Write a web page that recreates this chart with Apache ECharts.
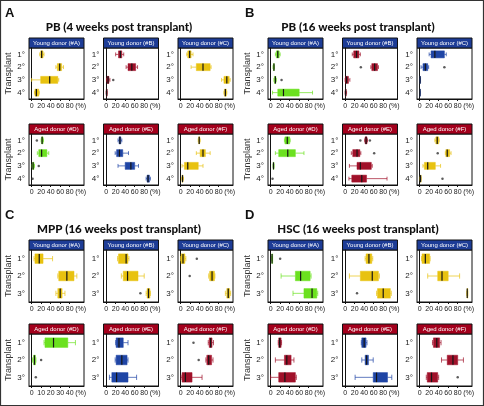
<!DOCTYPE html>
<html><head><meta charset="utf-8">
<script src="https://cdn.jsdelivr.net/npm/echarts@6/dist/echarts.min.js"></script>
<style>html,body{margin:0;padding:0;background:#fff}#c{width:484px;height:406px}</style>
</head><body><div id="c"></div>
<script>
// ---------- data: [min, Q1, median, Q3, max] per transplant; outliers: [transplantIndex, value]
const rows4 = ['1°','2°','3°','4°'];
const rows3 = ['1°','2°','3°'];
const xTicks = [0,20,40,60,80];
const xTicksHalf = [0,10,20,30,40];
const donorLabels = ['Young donor (#A)','Young donor (#B)','Young donor (#C)','Aged donor (#D)','Aged donor (#E)','Aged donor (#F)'];
const panelTitles = ['PB (4 weeks post transplant)','PB (16 weeks post transplant)','MPP (16 weeks post transplant)','HSC (16 weeks post transplant)'];
const panelLetters = ['A','B','C','D'];

// Panel A: PB 4 weeks
const pb4_A = [[17,19,21,24,26],[51,54,59,63,67],[0,19,38,55,57],[6,7,10,15,16]];
const pb4_A_out = [];
const pb4_B = [[20,26,30,33,37],[42,46,54,62,66],[1,2,4,6,8],[0,0.5,1,1.5,2]];
const pb4_B_out = [[2,15]];
const pb4_C = [[13,15,19,22,26],[22,33,47,62,64],[86,91,97,102,104],[91,92,94,96,97]];
const pb4_C_out = [];
const pb4_D = [[20,21,22,24,25],[12,15,21,32,36],[1,2,3,5,6],null];
const pb4_D_out = [[0,11],[2,15],[3,2]];
const pb4_E = [[25,27,29,31,33],[19,22,28,35,47],[25,40,52,60,68],[84,86,88,91,93]];
const pb4_E_out = [];
const pb4_F = [[37,38,39,40,41],[33,41,47,52,62],[3,8,15,37,47],[2,3,4,5,6]];
const pb4_F_out = [];

// Panel B: PB 16 weeks
const pb16_A = [[10,12,15,18,20],[5,6,7,7.5,8],[7,8,10,11,12],[4,15,27,60,88]];
const pb16_A_out = [[2,23]];
const pb16_B = [[15,18,24,29,32],[54,56,62,68,70],[0,1,3,7,10],[0,0.5,1,2,3]];
const pb16_B_out = [[1,33]];
const pb16_C = [[20,24,32,52,56],[3,7,12,17,19],[0,0.3,0.6,1,1.5],[0,0,0.3,0.6,1]];
const pb16_C_out = [[1,52]];
const pb16_D = [[29,30,35,40,41],[10,17,36,52,70],[5,5.5,6,6.5,7],null];
const pb16_D_out = [[3,4]];
const pb16_E = [[41,42,44,46,47],[13,16,25,31,33],[9,25,32,55,57],[8,14,35,45,88]];
const pb16_E_out = [[0,32],[0,52],[1,61]];
const pb16_F = [[32,34,37,40,41],[54,55,58,63,66],[7,10,17,33,44],[1,1.5,2,2.5,3]];
const pb16_F_out = [[1,38],[3,48]];

// Panel C: MPP 16 weeks
const mpp_A = [[5,7,16,24,44],[55,57,74,89,95],[51,55,60,64,70]];
const mpp_A_out = [];
const mpp_B = [[24,26,42,46,48],[32,36,45,67,80],[84,86,89,92,93]];
const mpp_B_out = [[2,72]];
const mpp_C = [[0,1,5,9,11],[59,61,66,71,72],[94,97,100,103,105]];
const mpp_C_out = [[0,34],[1,19]];
const mpp_D = [[13,14,23,38,46],[1,2,3,4,4.5],null];
const mpp_D_out = [[1,10],[2,4.4]];
const mpp_E = [[20,21,27,36,46],[19,21,33,44,46],[7,12,22,46,64]];
const mpp_E_out = [];
const mpp_F = [[58,60,63,66,69],[53,55,59,65,68],[1,3,10,24,45]];
const mpp_F_out = [[0,27],[1,38]];

// Panel D: HSC 16 weeks
const hsc_A = [[2,2.5,3,3.5,4],[22,52,63,83,85],[47,70,87,97,99]];
const hsc_A_out = [[0,20]];
const hsc_B = [[42,44,50,56,58],[9,32,57,70,72],[66,68,80,95,97]];
const hsc_B_out = [[2,25]];
const hsc_C = [[4,5,12,21,22],[17,38,47,60,84],[99,99.5,100,100.5,101]];
const hsc_C_out = [];
const hsc_D = [[16,17,19,22,23],[10,29,34,43,49],[0,17,30,52,54]];
const hsc_D_out = [];
const hsc_E = [[34,35,40,44,46],[35,42,45,49,59],[21,59,66,89,98]];
const hsc_E_out = [];
const hsc_F = [[27,29,36,42,45],[46,58,70,80,92],[14,16,25,38,40]];
const hsc_F_out = [[2,80]];

// ---------- styles / layout
const COL = {y:'#e8c210', r:'#a0112a', b:'#1f45a5', g:'#6be11f'};
const HEAD_Y = '#1d3c96', HEAD_A = '#a3001c';
const W = 55;

const panels = [
  {lx:5, ly:7, tcx:119, tcy:27, lefts:[29,103.5,178], heads:[38,124], plotH:51, cats:rows4,
   plots:[[pb4_A,pb4_A_out,'y'],[pb4_B,pb4_B_out,'r'],[pb4_C,pb4_C_out,'y'],[pb4_D,pb4_D_out,'g'],[pb4_E,pb4_E_out,'b'],[pb4_F,pb4_F_out,'y']]},
  {lx:245, ly:7, tcx:358, tcy:27, lefts:[268,342.5,417], heads:[38,124], plotH:51, cats:rows4,
   plots:[[pb16_A,pb16_A_out,'g'],[pb16_B,pb16_B_out,'r'],[pb16_C,pb16_C_out,'b'],[pb16_D,pb16_D_out,'g'],[pb16_E,pb16_E_out,'r'],[pb16_F,pb16_F_out,'y']]},
  {lx:5, ly:209, tcx:119, tcy:229, lefts:[29,103.5,178], heads:[240,324], plotH:52, cats:rows3,
   plots:[[mpp_A,mpp_A_out,'y'],[mpp_B,mpp_B_out,'y'],[mpp_C,mpp_C_out,'y'],[mpp_D,mpp_D_out,'g',true],[mpp_E,mpp_E_out,'b'],[mpp_F,mpp_F_out,'r']]},
  {lx:245, ly:209, tcx:358, tcy:229, lefts:[268,342.5,417], heads:[240,324], plotH:52, cats:rows3,
   plots:[[hsc_A,hsc_A_out,'g'],[hsc_B,hsc_B_out,'y'],[hsc_C,hsc_C_out,'y'],[hsc_D,hsc_D_out,'r'],[hsc_E,hsc_E_out,'b'],[hsc_F,hsc_F_out,'r']]}
];

function renderBox(params, api){
  const cat = api.value(0);
  const mn = api.coord([api.value(1), cat]);
  const q1 = api.coord([api.value(2), cat]);
  const md = api.coord([api.value(3), cat]);
  const q3 = api.coord([api.value(4), cat]);
  const mx = api.coord([api.value(5), cat]);
  const band = api.size([0,1])[1];
  const h = band*0.55, ch = h*0.55, y = md[1];
  const color = api.visual('color');
  const wStyle = {stroke: color, lineWidth: 1, opacity: 0.7};
  return {type:'group', children:[
    {type:'line', shape:{x1:mn[0],y1:y,x2:q1[0],y2:y}, style:wStyle},
    {type:'line', shape:{x1:q3[0],y1:y,x2:mx[0],y2:y}, style:wStyle},
    {type:'line', shape:{x1:mn[0],y1:y-ch/2,x2:mn[0],y2:y+ch/2}, style:wStyle},
    {type:'line', shape:{x1:mx[0],y1:y-ch/2,x2:mx[0],y2:y+ch/2}, style:wStyle},
    {type:'rect', shape:{x:q1[0], y:y-h/2, width:Math.max(q3[0]-q1[0],0.8), height:h}, style:{fill:color, stroke:color, lineWidth:0.5}},
    {type:'line', shape:{x1:md[0],y1:y-h/2,x2:md[0],y2:y+h/2}, style:{stroke:'#151515', lineWidth:1.2}}
  ]};
}

const option = {animation:false, backgroundColor:'#fff', grid:[], xAxis:[], yAxis:[], series:[], graphic:[]};
const FONT = 'Liberation Sans';
option.graphic.push({type:'rect', shape:{x:0.5,y:0.5,width:483,height:405}, style:{fill:'none', stroke:'#333', lineWidth:1.2}, silent:true});

panels.forEach((p, pi) => {
  option.graphic.push({type:'text', x:p.lx, y:p.ly, style:{text:panelLetters[pi], fill:'#111', font:'bold 13px ' + FONT}});
  option.graphic.push({type:'text', x:p.tcx, y:p.tcy, style:{text:panelTitles[pi], fill:'#111', font:'900 11.5px Lato', align:'center', verticalAlign:'middle'}});
  p.plots.forEach((pl, k) => {
    const r = Math.floor(k/3), c = k%3;
    const g = option.grid.length;
    const left = p.lefts[c], headTop = p.heads[r], top = headTop + 10;
    const half = !!pl[3];
    const ticks = half ? xTicksHalf : xTicks;
    const step = ticks[1];
    const xmax = step*5.5, xmin = -step*0.275;
    option.grid.push({left:left, top:top, width:W, height:p.plotH, show:true, borderColor:'#111', borderWidth:1, containLabel:false, outerBoundsMode:'none'});
    option.xAxis.push({type:'value', gridIndex:g, min:xmin, max:xmax,
      axisLine:{show:true, lineStyle:{color:'#111', width:1}},
      axisTick:{show:true, length:2, lineStyle:{color:'#111'}, customValues:ticks},
      splitLine:{show:false},
      axisLabel:{show:true, fontSize:7, fontFamily:FONT, color:'#222', margin:4, showMinLabel:true, showMaxLabel:true, hideOverlap:false,
        customValues: ticks.concat([step*5.15]),
        formatter: v => v > step*4.5 ? '(%)' : String(v)}});
    option.yAxis.push({type:'category', gridIndex:g, data:p.cats, inverse:true,
      axisLine:{show:true, lineStyle:{color:'#111', width:1}}, axisTick:{show:false},
      axisLabel:{fontSize:8, fontFamily:FONT, color:'#222', margin:4},
      name: c===0 ? 'Transplant' : '', nameLocation:'middle', nameRotate:90, nameGap:11,
      nameTextStyle:{fontSize:9, fontFamily:FONT, color:'#333'}});
    option.series.push({type:'custom', xAxisIndex:g, yAxisIndex:g, renderItem:renderBox, clip:false,
      itemStyle:{color:COL[pl[2]]}, encode:{x:[1,2,3,4,5], y:0}, z:3,
      data: pl[0].map((b,i) => b ? [i].concat(b) : null).filter(Boolean)});
    option.series.push({type:'scatter', xAxisIndex:g, yAxisIndex:g, symbolSize:2.5, z:4,
      itemStyle:{color:'#333'}, data: pl[1].map(o => [o[1], o[0]])});
    const hc = r===0 ? HEAD_Y : HEAD_A;
    option.graphic.push({type:'rect', shape:{x:left, y:headTop, width:W, height:10}, style:{fill:hc, stroke:'#111', lineWidth:1}, silent:true});
    option.graphic.push({type:'text', x:left+W/2, y:headTop+5.5, style:{text:donorLabels[k], fill:'#fff', font:'6px ' + FONT, align:'center', verticalAlign:'middle'}, silent:true});
  });
});

const chart = echarts.init(document.getElementById('c'), null, {renderer:'canvas'});
chart.setOption(option);
</script></body></html>
